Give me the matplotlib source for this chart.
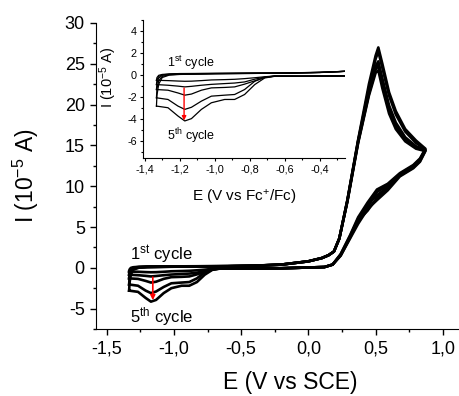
import numpy as np
import matplotlib.pyplot as plt
from matplotlib.ticker import MultipleLocator, FuncFormatter

plt.rcParams['font.family'] = 'Liberation Sans'
plt.rcParams['mathtext.fontset'] = 'custom'
plt.rcParams['mathtext.rm'] = 'Liberation Sans'
plt.rcParams['mathtext.it'] = 'Liberation Sans:italic'
plt.rcParams['axes.unicode_minus'] = False

# potential (V vs SCE), forward scan -1.33 -> 0.87
e_fwd = [-1.333, -1.33, -1.32, -1.30, -1.26, -1.20, -1.00, -0.80, -0.60, -0.40,
         -0.20, 0.00, 0.10, 0.15, 0.19, 0.23, 0.29, 0.37, 0.45, 0.50, 0.52,
         0.55, 0.60, 0.65, 0.72, 0.80, 0.87]
# reverse scan 0.87 -> -1.33
e_rev = [0.87, 0.83, 0.78, 0.68, 0.59, 0.51, 0.44, 0.37, 0.31, 0.24, 0.18,
         0.12, -0.20, -0.50, -0.657, -0.714, -0.771, -0.829, -0.886, -0.943,
         -1.019, -1.076, -1.133, -1.171, -1.21, -1.267, -1.333]

# current (1e-5 A), one list per cycle
fwd_c1 = [-0.45, -0.20, 0.00, 0.08, 0.13, 0.16, 0.18, 0.20, 0.22, 0.27, 0.40, 0.80,
          1.20, 1.55, 2.0, 3.6, 8.3, 15.7, 22.5, 26.0, 27.0, 25.0, 21.5, 19.2,
          17.0, 15.6, 14.6]
fwd_c2 = [-0.84, -0.40, -0.10, 0.04, 0.10, 0.14, 0.17, 0.19, 0.21, 0.27, 0.40, 0.80,
          1.20, 1.55, 2.0, 3.6, 8.3, 15.6, 22.0, 25.6, 26.5, 24.5, 21.1, 18.8,
          16.7, 15.3, 14.5]
fwd_c3 = [-1.29, -0.70, -0.25, 0.00, 0.08, 0.12, 0.16, 0.18, 0.20, 0.26, 0.40, 0.80,
          1.20, 1.55, 2.0, 3.6, 8.2, 15.5, 21.5, 24.7, 25.3, 23.2, 19.9, 17.8,
          16.0, 14.9, 14.4]
fwd_c4 = [-2.04, -1.20, -0.50, -0.10, 0.05, 0.10, 0.15, 0.17, 0.20, 0.26, 0.40, 0.80,
          1.20, 1.55, 2.0, 3.6, 8.2, 15.4, 21.3, 24.3, 24.8, 22.7, 19.4, 17.4,
          15.7, 14.8, 14.4]
fwd_c5 = [-2.79, -1.80, -0.80, -0.20, 0.02, 0.08, 0.14, 0.17, 0.19, 0.25, 0.40, 0.80,
          1.20, 1.55, 2.0, 3.6, 8.1, 15.3, 21.1, 23.9, 24.2, 22.0, 18.9, 17.0,
          15.5, 14.6, 14.3]

rev_c1 = [14.6, 13.4, 12.6, 11.6, 10.3, 9.6, 8.0, 6.2, 4.0, 1.7, 0.4, 0.1, -0.05,
          -0.08, -0.06, -0.13, -0.22, -0.30, -0.36, -0.39, -0.42, -0.48, -0.53,
          -0.54, -0.52, -0.48, -0.45]
rev_c2 = [14.5, 13.3, 12.5, 11.5, 10.1, 9.3, 7.4, 6.0, 3.9, 1.6, 0.4, 0.1, -0.05,
          -0.08, -0.07, -0.16, -0.35, -0.60, -0.70, -0.75, -0.82, -0.90, -1.00,
          -1.05, -0.98, -0.90, -0.84]
rev_c3 = [14.4, 13.2, 12.4, 11.4, 9.9, 8.9, 7.8, 5.6, 3.8, 1.6, 0.4, 0.1, -0.05,
          -0.08, -0.07, -0.20, -0.50, -0.80, -1.05, -1.10, -1.14, -1.35, -1.70,
          -1.80, -1.60, -1.35, -1.29]
rev_c4 = [14.4, 13.1, 12.3, 11.3, 9.7, 8.6, 7.0, 5.8, 3.7, 1.5, 0.4, 0.1, -0.05,
          -0.08, -0.08, -0.18, -0.54, -1.29, -1.74, -1.80, -1.89, -2.34, -2.90,
          -3.09, -2.79, -2.19, -2.04]
rev_c5 = [14.3, 13.0, 12.2, 11.2, 9.5, 8.3, 7.2, 5.4, 3.6, 1.5, 0.4, 0.1, -0.05,
          -0.08, -0.09, -0.24, -0.84, -1.74, -2.19, -2.19, -2.49, -3.09, -3.93,
          -4.14, -3.69, -2.94, -2.79]

cycles = [(fwd_c1, rev_c1), (fwd_c2, rev_c2), (fwd_c3, rev_c3),
          (fwd_c4, rev_c4), (fwd_c5, rev_c5)]
e_all = e_fwd + e_rev

comma = FuncFormatter(lambda v, p: ('%.1f' % v).replace('.', ','))
integer = FuncFormatter(lambda v, p: '%d' % round(v))

fig = plt.figure(figsize=(4.59, 3.96), dpi=100)

# main axes
ax = fig.add_axes([0.209, 0.169, 0.791, 0.773])
for f, r in cycles:
    ax.plot(e_all, f + r, color='black', lw=1.9, solid_joinstyle='round')
ax.set_xlim(-1.58, 1.12)
ax.set_ylim(-7.5, 30)
ax.spines['top'].set_visible(False)
ax.spines['right'].set_visible(False)
ax.xaxis.set_major_locator(MultipleLocator(0.5))
ax.xaxis.set_minor_locator(MultipleLocator(0.25))
ax.yaxis.set_major_locator(MultipleLocator(5))
ax.yaxis.set_minor_locator(MultipleLocator(2.5))
ax.xaxis.set_major_formatter(comma)
ax.yaxis.set_major_formatter(integer)
ax.tick_params(which='major', length=4.5, width=1, labelsize=13)
ax.tick_params(which='minor', length=2.5, width=1)
ax.set_xlabel('E (V vs SCE)', fontsize=16.5)
ax.set_ylabel('I (10$^{-5}$ A)', fontsize=16.5)
ax.xaxis.set_label_coords(0.534, -0.138)
ax.yaxis.set_label_coords(-0.15, 0.5)

ax.text(-1.324, 0.98, '1$^{\\mathrm{st}}$ cycle', fontsize=12, va='baseline')
ax.text(-1.324, -6.74, '5$^{\\mathrm{th}}$ cycle', fontsize=12, va='baseline')
ax.annotate('', xy=(-1.157, -4.3), xytext=(-1.157, -0.8),
            arrowprops=dict(arrowstyle='-|>', color='red', lw=1.2, mutation_scale=7))

# inset
ins = fig.add_axes([0.3115, 0.601, 0.4401, 0.348])
for f, r in cycles:
    ins.plot(e_all, f + r, color='black', lw=0.9)
ins.set_xlim(-1.41, -0.255)
ins.set_ylim(-7.5, 5)
ins.spines['top'].set_visible(False)
ins.spines['right'].set_visible(False)
ins.xaxis.set_major_locator(MultipleLocator(0.2))
ins.xaxis.set_minor_locator(MultipleLocator(0.1))
ins.yaxis.set_major_locator(MultipleLocator(2))
ins.yaxis.set_minor_locator(MultipleLocator(1))
ins.xaxis.set_major_formatter(comma)
ins.yaxis.set_major_formatter(integer)
ins.tick_params(which='major', length=2.5, width=0.8, labelsize=7.8, pad=2)
ins.tick_params(which='minor', length=1.5, width=0.8)
ins.set_xlabel('E (V vs Fc$^{+}$/Fc)', fontsize=11)
ins.xaxis.set_label_coords(0.5, -0.22)
fig.text(108 / 459, 1 - 77 / 396, 'I (10$^{-5}$ A)', fontsize=10.5,
         rotation=90, ha='center', va='center')

ins.text(-1.273, 0.74, '1$^{\\mathrm{st}}$ cycle', fontsize=9, va='baseline')
ins.text(-1.273, -5.87, '5$^{\\mathrm{th}}$ cycle', fontsize=9, va='baseline')
ins.annotate('', xy=(-1.175, -4.35), xytext=(-1.175, -0.9),
             arrowprops=dict(arrowstyle='-|>', color='red', lw=1.0, mutation_scale=6))

fig.savefig('out.png', dpi=100)
